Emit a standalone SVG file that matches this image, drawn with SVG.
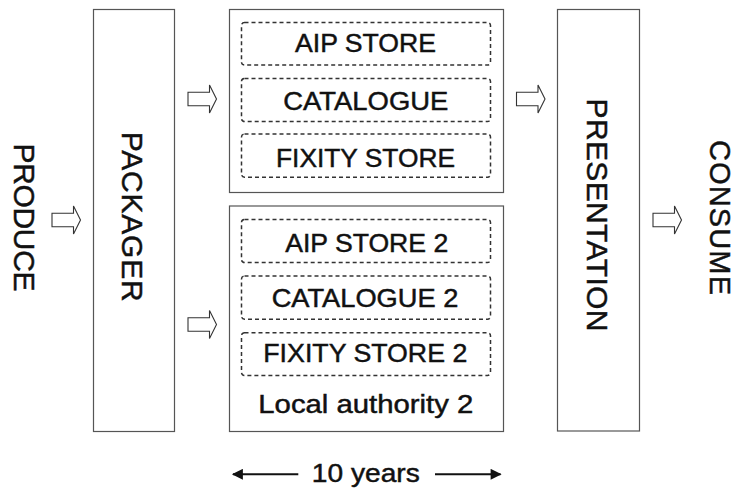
<svg xmlns="http://www.w3.org/2000/svg" width="736" height="488" viewBox="0 0 736 488">
<defs>
<style>
.box{fill:#fff;stroke:#555;stroke-width:1.2}
.dash{fill:none;stroke:#333;stroke-width:1.5;stroke-dasharray:4 3}
.t{font-family:"Liberation Sans",Arial,sans-serif;font-size:25px;fill:#111;stroke:#111;stroke-width:0.45;text-anchor:middle}
.v{font-family:"Liberation Sans",Arial,sans-serif;font-size:30px;fill:#111;stroke:#111;stroke-width:0.45;text-anchor:middle}
.blk{fill:#fff;stroke:#333;stroke-width:1.1}
.dim{stroke:#111;stroke-width:2;fill:none}
</style>
<path id="ba" d="M0,-6.8 H21.5 V-14 L28.5,0 L21.5,14 V6.8 H0 Z"/>
<marker id="ah" viewBox="0 0 10 10" refX="9" refY="5" markerWidth="8" markerHeight="5.5" orient="auto" markerUnits="strokeWidth">
<path d="M0,0 L10,5 L0,10 Z" fill="#111"/>
</marker>
</defs>
<rect width="736" height="488" fill="#fff"/>

<g id="produce">
<text class="v" transform="translate(13.5,217.5) rotate(90)" textLength="148">PRODUCE</text>
</g>

<g id="packager">
<rect class="box" x="93.5" y="9.5" width="81" height="422"/>
<text class="v" transform="translate(122,216.7) rotate(90)" textLength="170">PACKAGER</text>
</g>

<g id="store1">
<rect class="box" x="229.5" y="9.5" width="274" height="183"/>
<g id="aip">
<rect class="dash" x="241.5" y="22.5" width="249" height="42.5" rx="3"/>
<text class="t" x="365.5" y="52.3" textLength="141" lengthAdjust="spacingAndGlyphs">AIP STORE</text>
</g>
<g id="catalogue">
<rect class="dash" x="241.5" y="78.5" width="249" height="43" rx="3"/>
<text class="t" x="365.8" y="110" textLength="165" lengthAdjust="spacingAndGlyphs">CATALOGUE</text>
</g>
<g id="fixity">
<rect class="dash" x="241.5" y="134" width="249" height="43.3" rx="3"/>
<text class="t" x="365.5" y="166.7" textLength="179" lengthAdjust="spacingAndGlyphs">FIXITY STORE</text>
</g>
</g>

<g id="store2">
<rect class="box" x="229.5" y="206" width="274" height="225.5"/>
<g id="aip2">
<rect class="dash" x="241.5" y="219.5" width="249" height="43" rx="3"/>
<text class="t" x="366.7" y="251.7" textLength="163" lengthAdjust="spacingAndGlyphs">AIP STORE 2</text>
</g>
<g id="catalogue2">
<rect class="dash" x="241.5" y="276" width="249" height="43.3" rx="3"/>
<text class="t" x="365" y="306.7" textLength="186.7" lengthAdjust="spacingAndGlyphs">CATALOGUE 2</text>
</g>
<g id="fixity2">
<rect class="dash" x="241.5" y="332.7" width="249" height="42.7" rx="3"/>
<text class="t" x="365.3" y="362.3" textLength="204" lengthAdjust="spacingAndGlyphs">FIXITY STORE 2</text>
</g>
<text class="t" x="365.8" y="413.3" textLength="215" lengthAdjust="spacingAndGlyphs">Local authority 2</text>
</g>

<g id="presentation">
<rect class="box" x="557.5" y="9.5" width="82" height="421.5"/>
<text class="v" transform="translate(587,215) rotate(90)" textLength="233">PRESENTATION</text>
</g>

<g id="consume">
<text class="v" transform="translate(709.5,217.5) rotate(90)" textLength="155" style="font-size:29px">CONSUME</text>
</g>

<g id="connectors">
<use href="#ba" class="blk" x="52" y="220"/>
<use href="#ba" class="blk" x="188" y="99"/>
<use href="#ba" class="blk" x="188" y="324.5"/>
<use href="#ba" class="blk" x="516.5" y="99"/>
<use href="#ba" class="blk" x="653" y="220"/>
</g>

<g id="timespan">
<line class="dim" x1="298.3" y1="474.3" x2="233" y2="474.3" marker-end="url(#ah)"/>
<line class="dim" x1="435" y1="474.3" x2="500.5" y2="474.3" marker-end="url(#ah)"/>
<text class="t" x="365.8" y="481.7" textLength="108" lengthAdjust="spacingAndGlyphs">10 years</text>
</g>
</svg>
